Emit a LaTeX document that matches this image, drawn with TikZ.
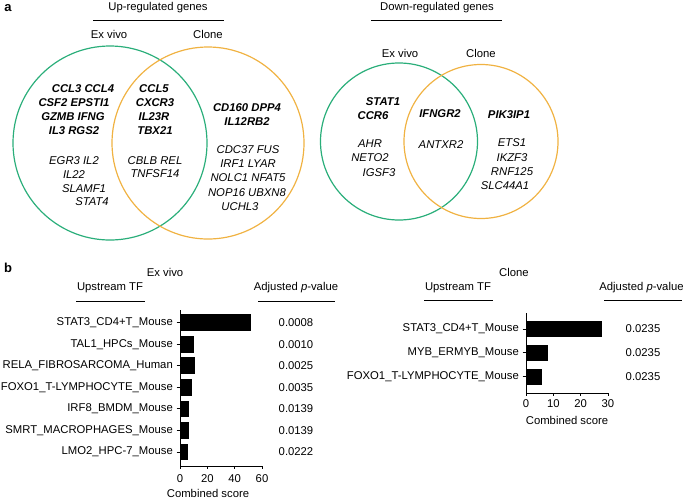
\documentclass[tikz,border=0pt]{standalone}
\usepackage{fontspec}
\setmainfont{Liberation Sans}
\usetikzlibrary{positioning}
\definecolor{vgreen}{RGB}{42,174,122}
\definecolor{vorange}{RGB}{240,178,66}

\begin{document}
\begin{tikzpicture}[x=1pt,y=-1pt,txt/.style={font=\fontsize{11.3}{13.5}\selectfont,inner sep=0pt},gene/.style={txt,font=\fontsize{11.3}{13.5}\selectfont\itshape},bgene/.style={txt,font=\fontsize{11.3}{13.5}\selectfont\bfseries\itshape},panel/.style={font=\fontsize{13}{15}\selectfont\bfseries,inner sep=0pt},venn/.style={line width=1.2pt}]
\useasboundingbox (0,0) rectangle (685,499);

% Panel a: up-regulated genes
\node[panel] (pa) at(8,8) {a};
\node[txt] (uptitle) at(158,8) {Up-regulated genes};
\draw[line width=1pt] (93,20)--(224,20);
\node[txt] (upex) at(109,34) {Ex vivo};
\node[txt] (upcl) at(208,34) {Clone};
\draw[venn,vgreen] (110,143) circle (97);
\draw[venn,vorange] (208,143) circle (96);
\foreach \xx/\yy/\gg in {83/89/CCL3 CCL4,74/103/CSF2 EPSTI1,73/117/GZMB IFNG,74/131/IL3 RGS2,154/89/CCL5,155/103/CXCR3,154/117/IL23R,155/131/TBX21,247/108/CD160 DPP4,247/122/IL12RB2}
 \node[bgene] at(\xx,\yy) {\gg};
\foreach \xx/\yy/\gg in {74/161/EGR3 IL2,74/175/IL22,84/189/SLAMF1,92/202/STAT4,155/161/CBLB REL,155/174/TNFSF14,248/150/CDC37 FUS,248/164/IRF1 LYAR,248/178/NOLC1 NFAT5,247/193/NOP16 UBXN8,240/207/UCHL3}
 \node[gene] at(\xx,\yy) {\gg};

% Panel a: down-regulated genes
\node[txt] (dntitle) at(437,8) {Down-regulated genes};
\draw[line width=1pt] (371,20)--(502,20);
\node[txt] (dnex) at(400,53) {Ex vivo};
\node[txt] (dncl) at(481,53) {Clone};
\draw[venn,vgreen] (399,141.5) circle (78.5);
\draw[venn,vorange] (481,141.5) circle (77);
\foreach \xx/\yy/\gg in {383/102/STAT1,373/116/CCR6,440/114/IFNGR2,509/115/PIK3IP1}
 \node[bgene] at(\xx,\yy) {\gg};
\foreach \xx/\yy/\gg in {370/144/AHR,370/158/NETO2,379/173/IGSF3,441/145/ANTXR2,512/143/ETS1,512/158/IKZF3,512/172/RNF125,505/186/SLC44A1}
 \node[gene] at(\xx,\yy) {\gg};

% Panel b: ex vivo
\node[panel] (pb) at(8,268) {b};
\node[txt] (bex) at(165,272) {Ex vivo};
\node[txt] (exup) at(110,288) {Upstream TF};
\draw[line width=1pt] (76,301)--(145,301);
\node[txt] (expv) at(296,288) {Adjusted \textit{p}-value};
\draw[line width=1pt] (258,301)--(335,301);
\foreach \i/\yy/\val/\tf/\pv in {1/322.7/52/STAT3\_CD4+T\_Mouse/0.0008,2/344.2/10.5/TAL1\_HPCs\_Mouse/0.0010,3/365.7/11/RELA\_FIBROSARCOMA\_Human/0.0025,4/387.3/8.5/FOXO1\_T-LYMPHOCYTE\_Mouse/0.0035,5/408.8/6.9/IRF8\_BMDM\_Mouse/0.0139,6/430.3/6.9/SMRT\_MACROPHAGES\_Mouse/0.0139,7/451.9/6.1/LMO2\_HPC-7\_Mouse/0.0222}{
 \node[txt,anchor=east] (extf\i) at(173,\yy) {\tf};
 \node[txt] (exp\i) at(296,\yy) {\pv};
 \fill (180,\yy-8.3) rectangle ++(\val*1.367,16.6);
 \draw[line width=.8pt] (176.5,\yy)--(180,\yy);
}
\draw[line width=.8pt] (180,310)--(180,466)--(262,466);
\foreach \v in {0,20,40,60}{
 \draw[line width=.8pt] (180+\v*1.367,466)--++(0,3);
 \node[txt] at(180+\v*1.367,479) {\v};
}
\node[txt] (excs) at(208,493) {Combined score};

% Panel b: clone
\node[txt] (bcl) at(514,272) {Clone};
\node[txt] (clup) at(458,288) {Upstream TF};
\draw[line width=1pt] (424,300)--(493,300);
\node[txt] (clpv) at(641.5,288) {Adjusted \textit{p}-value};
\draw[line width=1pt] (604,300)--(682,300);
\foreach \i/\yy/\val/\tf in {1/329/27.7/STAT3\_CD4+T\_Mouse,2/352.7/8.1/MYB\_ERMYB\_Mouse,3/376.7/5.8/FOXO1\_T-LYMPHOCYTE\_Mouse}{
 \node[txt,anchor=east] (cltf\i) at(519,\yy) {\tf};
 \node[txt] (clp\i) at(643,\yy) {0.0235};
 \fill (526,\yy-8.2) rectangle ++(\val*2.733,16.4);
 \draw[line width=.8pt] (522.5,\yy)--(526,\yy);
}
\draw[line width=.8pt] (526,313)--(526,393)--(608,393);
\foreach \v in {0,10,20,30}{
 \draw[line width=.8pt] (526+\v*2.733,393)--++(0,3);
 \node[txt] at(526+\v*2.733,404) {\v};
}
\node[txt] (clcs) at(567,420) {Combined score};
\end{tikzpicture}
\end{document}
